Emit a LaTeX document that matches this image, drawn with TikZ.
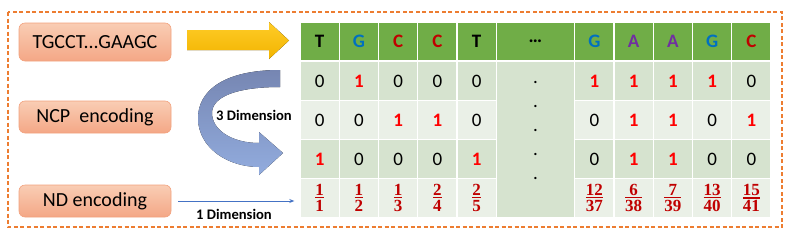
\documentclass[tikz,border=0pt]{standalone}
\usepackage{fontspec}
\usetikzlibrary{arrows.meta}
\setmainfont{Carlito}
\newfontfamily\fracfont{Liberation Serif}
\definecolor{hgreen}{HTML}{70AD47}
\definecolor{dgreen}{HTML}{D6E3CF}
\definecolor{lgreen}{HTML}{EAF0E7}
\definecolor{gblue}{HTML}{0070C0}
\definecolor{cred}{HTML}{C00000}
\definecolor{apurple}{HTML}{7030A0}
\definecolor{onered}{HTML}{FF0000}
\definecolor{frred}{HTML}{C00000}
\definecolor{border}{HTML}{ED7D31}
\definecolor{boxtop}{HTML}{F9CDB4}
\definecolor{boxbot}{HTML}{F4A786}
\definecolor{boxline}{HTML}{F2A27E}
\definecolor{arrowblue}{HTML}{4472C4}
\newcommand{\onec}{\textcolor{onered}{\bfseries 1}}
\newcommand{\frc}[2]{{\color{frred}\fracfont\bfseries\fontsize{17}{17}\selectfont
  \vbox{\offinterlineskip\ialign{\hfil##\hfil\cr #1\cr\noalign{\kern1.4pt\hrule height 1.1pt\kern1.6pt}#2\cr}}}}
\begin{document}
\begin{tikzpicture}[x=1pt,y=-1pt,
  lbox/.style={rounded corners=6pt, draw=boxline, line width=0.6pt, top color=boxtop, bottom color=boxbot,
    minimum width=152pt, inner sep=0pt, font=\fontsize{20}{24}\selectfont},
  cell/.style={draw=white, line width=1.4pt, minimum width=39.25pt, minimum height=39pt, inner sep=0pt,
    font=\fontsize{19}{22}\selectfont},
  hd/.style={cell, fill=hgreen, minimum height=38pt, font=\bfseries\fontsize{19}{22}\selectfont},
  dk/.style={cell, fill=dgreen},
  lt/.style={cell, fill=lgreen},
  dimlabel/.style={font=\bfseries\fontsize{14.6}{17}\selectfont, inner sep=0pt}
]
\useasboundingbox (0,0) rectangle (806,242);
% dashed frame
\draw[border, line width=1.4pt, dash pattern=on 4pt off 2.5pt] (8,12) rectangle (782,227);

% left boxes
\node[lbox, minimum height=38pt] (tg) at (95,42) {TGCCT...GAAGC};
\node[lbox, minimum height=32pt] (ncp) at (95,117) {NCP\ \ encoding};
\node[lbox, minimum height=32pt] (nd) at (95,201) {ND encoding};

% header row
\foreach \j/\t in {1/T,2/\textcolor{gblue}{G},3/\textcolor{cred}{C},4/\textcolor{cred}{C},5/T,
                   8/\textcolor{gblue}{G},9/\textcolor{apurple}{A},10/\textcolor{apurple}{A},11/\textcolor{gblue}{G},12/\textcolor{cred}{C}}
  \node[hd] (h\j) at ({280.375+39.25*\j},41.5) {\t};
\node[hd, minimum width=78.5pt] (hdots) at (535.5,41.5) {…};

% row 1
\foreach \j/\t in {1/0,2/\onec,3/0,4/0,5/0,8/\onec,9/\onec,10/\onec,11/\onec,12/0}
  \node[dk] (ra\j) at ({280.375+39.25*\j},81) {\t};
% row 2
\foreach \j/\t in {1/0,2/0,3/\onec,4/\onec,5/0,8/0,9/\onec,10/\onec,11/0,12/\onec}
  \node[lt] (rb\j) at ({280.375+39.25*\j},120) {\t};
% row 3
\foreach \j/\t in {1/\onec,2/0,3/0,4/0,5/\onec,8/0,9/\onec,10/\onec,11/0,12/0}
  \node[dk] (rc\j) at ({280.375+39.25*\j},159) {\t};
% row 4
\foreach \j/\a/\b in {1/1/1,2/1/2,3/1/3,4/2/4,5/2/5,8/12/37,9/6/38,10/7/39,11/13/40,12/15/41}
  \node[lt] (rd\j) at ({280.375+39.25*\j},198) {\frc{\a}{\b}};
% ellipsis column
\node[cell, fill=dgreen, minimum width=78.5pt, minimum height=156pt] (ell) at (535.5,139.5) {};
\foreach \yy [count=\k] in {82,106,130,154,178}
  \node[anchor=base, inner sep=0pt, font=\fontsize{19}{22}\selectfont] (dot\k) at (535.5,{\yy+1.6}) {.};

% yellow arrow
\fill[top color={rgb,255:red,255;green,204;blue,40}, bottom color={rgb,255:red,242;green,180;blue,0}]
  (187,30) -- (269,30) -- (269,22) -- (289,40.5) -- (269,59) -- (269,50) -- (187,50) -- cycle;

% curved arrow
\fill[top color={rgb,255:red,118;green,134;blue,178}, bottom color={rgb,255:red,146;green,172;blue,222}]
  (280,70) .. controls (222,70) and (198,92) .. (198,118)
  .. controls (198,148) and (228,167) .. (259,167)
  -- (259,175) -- (283,153) -- (259,132) -- (259,143)
  .. controls (232,143) and (212,130) .. (212,113)
  .. controls (212,97) and (236,87) .. (280,87) -- cycle;
\node[dimlabel] (d3) at (254,115) {3 Dimension};

% thin arrow
\draw[arrowblue, line width=0.9pt, -{Stealth[length=5pt,width=4pt]}, shorten <=7pt, shorten >=5pt]
  (nd.east) -- (nd.east -| rd1.west);
\node[dimlabel] (d1) at (234,214) {1 Dimension};
\end{tikzpicture}
\end{document}
